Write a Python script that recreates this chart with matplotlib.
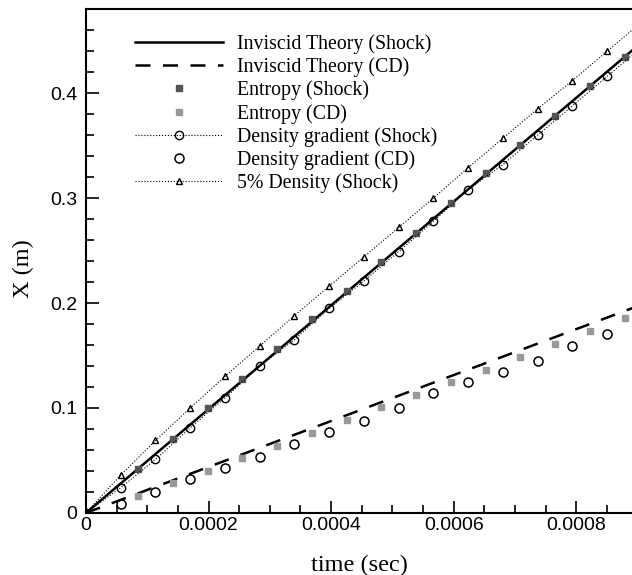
import matplotlib.pyplot as plt
from matplotlib.ticker import MultipleLocator, FuncFormatter

# sampling step of the diagnostics (s)
dt = 0.0000567

# inviscid theory lines (endpoints)
theory_t = [0.0, 0.0009]
theory_shock = [0.0, 0.445]
theory_cd = [0.0, 0.197]

# entropy based detection, sampled at half steps 1.5 .. 15.5
entropy_k = [1.5, 2.5, 3.5, 4.5, 5.5, 6.5, 7.5, 8.5, 9.5, 10.5, 11.5, 12.5, 13.5, 14.5, 15.5]
entropy_shock = [0.042, 0.0705, 0.100, 0.1276, 0.156, 0.1848, 0.2114, 0.239, 0.2667,
                 0.295, 0.324, 0.351, 0.378, 0.4067, 0.434]
entropy_cd = [0.016, 0.0286, 0.040, 0.052, 0.064, 0.076, 0.0886, 0.101, 0.112,
              0.125, 0.136, 0.149, 0.161, 0.173, 0.186]

# density gradient detection, steps 0 .. 16
grad_k = list(range(0, 17))
grad_shock = [0.0, 0.024, 0.051, 0.081, 0.1095, 0.140, 0.165, 0.195, 0.221, 0.249,
              0.278, 0.308, 0.332, 0.360, 0.388, 0.416, 0.444]
grad_cd_k = list(range(1, 16))
grad_cd = [0.0086, 0.020, 0.032, 0.043, 0.053, 0.066, 0.077, 0.088, 0.100,
           0.114, 0.125, 0.134, 0.145, 0.159, 0.1705]

# 5% density threshold, steps 0 .. 16
dens5_shock = [0.0, 0.036, 0.069, 0.100, 0.130, 0.159, 0.188, 0.216, 0.244, 0.272,
               0.300, 0.329, 0.357, 0.385, 0.412, 0.440, 0.468]

serif = ['Liberation Serif', 'DejaVu Serif']
sans = ['Liberation Sans', 'DejaVu Sans']

fig = plt.figure(figsize=(6.32, 5.75), dpi=100)
ax = fig.add_axes([0.136, 0.108, 0.864, 0.876])

ax.plot(theory_t, theory_shock, color='black', lw=1.8, label='Inviscid Theory (Shock)')
ax.plot(theory_t, theory_cd, color='black', lw=1.8, dashes=(6, 5),
        label='Inviscid Theory (CD)')
ax.plot([k * dt for k in entropy_k], entropy_shock, ls='none', marker='s', ms=4.5,
        color='#555555', mec='#555555', label='Entropy (Shock)')
ax.plot([k * dt for k in entropy_k], entropy_cd, ls='none', marker='s', ms=4.5,
        color='#999999', mec='#999999', label='Entropy (CD)')
ax.plot([k * dt for k in grad_k], grad_shock, ls=':', lw=0.8, color='black',
        marker='o', ms=6, mfc='none', mec='black', mew=1.0,
        label='Density gradient (Shock)')
ax.plot([k * dt for k in grad_cd_k], grad_cd, ls='none', marker='o', ms=6.5,
        mfc='none', mec='black', mew=1.1, label='Density gradient (CD)')
ax.plot([k * dt for k in grad_k], dens5_shock, ls=':', lw=0.8, color='black',
        marker='^', ms=5, mfc='none', mec='black', mew=1.0,
        label='5% Density (Shock)')

ax.set_xlim(0, 0.000891)
ax.set_ylim(0, 0.48)
ax.xaxis.set_major_locator(MultipleLocator(0.0002))
ax.xaxis.set_minor_locator(MultipleLocator(0.00005))
ax.yaxis.set_major_locator(MultipleLocator(0.1))
ax.yaxis.set_minor_locator(MultipleLocator(0.02))
ax.xaxis.set_major_formatter(FuncFormatter(lambda v, p: '0' if v == 0 else f'{v:.4f}'))
ax.yaxis.set_major_formatter(FuncFormatter(lambda v, p: '0' if v == 0 else f'{v:.1f}'))
ax.tick_params(which='both', direction='in', top=False, right=False, width=1.2)
ax.tick_params(which='major', length=9, labelsize=14)
ax.tick_params(axis='x', which='major', pad=3)
ax.tick_params(axis='y', which='major', pad=6)
ax.tick_params(which='minor', length=5.5)
for lab in ax.get_xticklabels() + ax.get_yticklabels():
    lab.set_family(sans)

for s in ['left', 'bottom', 'top']:
    ax.spines[s].set_linewidth(1.5)
ax.spines['right'].set_visible(False)

ax.set_xlabel('time (sec)', family=serif, fontsize=17.5)
ax.set_ylabel('X (m)', family=serif, fontsize=17.5)
ax.xaxis.set_label_coords(0.5, -0.083)
ax.yaxis.set_label_coords(-0.095, 0.484)

ax.legend(loc='upper left', bbox_to_anchor=(0.075, 0.966), frameon=False,
          prop={'family': serif, 'size': 14.3}, handlelength=4.43, handletextpad=0.7,
          labelspacing=0.175, borderaxespad=0)

fig.savefig('out.png', dpi=100)
